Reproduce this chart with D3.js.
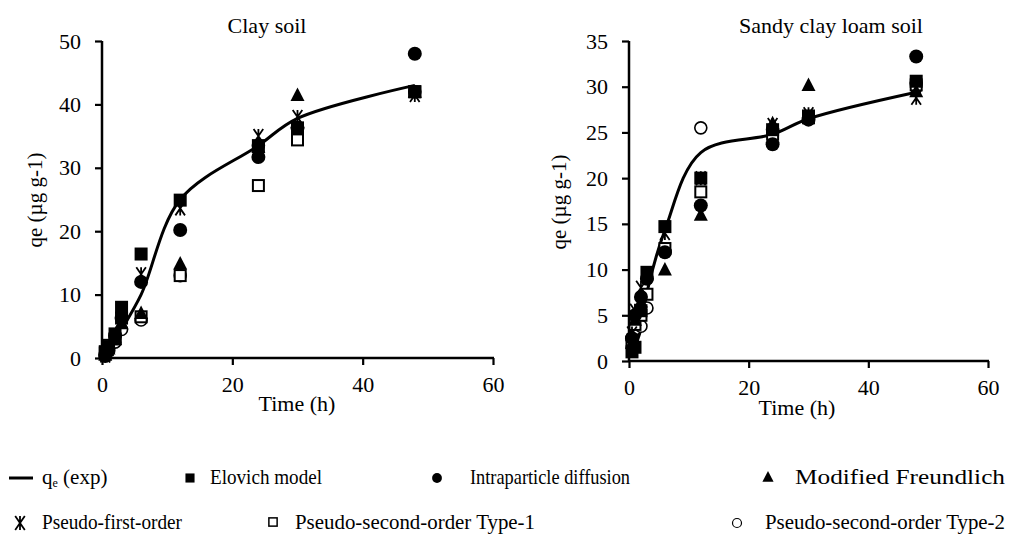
<!DOCTYPE html>
<html><head><meta charset="utf-8">
<script src="https://cdn.jsdelivr.net/npm/d3@7"></script>
<style>body{margin:0;background:#fff}svg{display:block;font-family:"Liberation Serif","Times New Roman",serif}</style>
</head><body><svg id="c" width="1011" height="537"></svg>
<script>
const times = [0.5, 1, 2, 3, 6, 12, 24, 30, 48];
const xTicks = [0, 20, 40, 60];
const clayTicks = [0, 10, 20, 30, 40, 50];
const sandyTicks = [0, 5, 10, 15, 20, 25, 30, 35];
const seriesNames = ["Elovich model","Intraparticle diffusion","Modified Freundlich","Pseudo-first-order","Pseudo-second-order Type-1","Pseudo-second-order Type-2"];
// Clay soil
const clayExp      = [0.5, 1.3, 2.8, 4.5, 10.0, 25.0, 33.5, 37.8, 43.0];
const clayElovich  = [0.8, 1.8, 3.8, 8.0, 16.4, 24.9, 33.5, 36.3, 42.0];
const clayIntra    = [0.3, 1.2, 3.5, 6.3, 12.0, 20.2, 31.7, 36.3, 48.0];
const clayMF       = [0.5, 1.5, 3.0, 5.5, 7.1, 14.9, 33.3, 41.5, 42.0];
const clayPFO      = [0.4, 1.4, 3.4, 6.8, 13.2, 23.6, 35.0, 38.0, 41.5];
const clayPSO1     = [1.0, 2.0, 3.0, 6.3, 6.5, 13.0, 27.2, 34.4, 42.0];
const clayPSO2     = [0.6, 1.5, 2.5, 4.5, 6.0, 13.0, 33.5, 36.3, 42.0];
// Sandy clay loam soil
const sandyExp     = [0.5, 1.5, 3.5, 7.5, 14.3, 22.8, 24.8, 26.5, 29.4];
const sandyElovich = [1.0, 1.5, 5.5, 9.7, 14.7, 20.0, 25.3, 26.8, 30.6];
const sandyIntra   = [2.5, 5.0, 7.0, 9.0, 11.9, 17.0, 23.7, 26.4, 33.3];
const sandyMF      = [2.0, 4.5, 6.5, 9.5, 10.0, 16.0, 26.0, 30.2, 29.5];
const sandyPFO     = [3.0, 5.5, 8.0, 9.3, 14.0, 20.0, 25.8, 27.0, 28.8];
const sandyPSO1    = [2.0, 4.0, 5.0, 7.3, 12.3, 18.5, 24.8, 26.6, 30.2];
const sandyPSO2    = [2.5, 3.5, 3.8, 5.8, 12.0, 25.5, 25.3, 26.6, 30.4];

const svg = d3.select("#c");

function marker(g, type, x, y) {
  if (type === 0) { // filled square
    g.append("rect").attr("x", x-6.5).attr("y", y-6.5).attr("width", 13).attr("height", 13).attr("fill", "#000");
  } else if (type === 1) { // filled circle
    g.append("circle").attr("cx", x).attr("cy", y).attr("r", 7).attr("fill", "#000");
  } else if (type === 2) { // triangle
    g.append("path").attr("d", `M${x},${y-7.5}L${x+7},${y+6}L${x-7},${y+6}Z`).attr("fill", "#000");
  } else if (type === 3) { // star (X + vertical)
    const r = 7, w = 4.8;
    g.append("path").attr("d", `M${x-w},${y-r}L${x+w},${y+r}M${x+w},${y-r}L${x-w},${y+r}M${x},${y-r}L${x},${y+r}`)
      .attr("stroke", "#000").attr("stroke-width", 1.8).attr("fill", "none");
  } else if (type === 4) { // open square
    g.append("rect").attr("x", x-5.5).attr("y", y-5.5).attr("width", 11).attr("height", 11).attr("fill", "#fff").attr("stroke", "#000").attr("stroke-width", 2);
  } else if (type === 5) { // open circle
    g.append("circle").attr("cx", x).attr("cy", y).attr("r", 6).attr("fill", "#fff").attr("stroke", "#000").attr("stroke-width", 1.6);
  }
}

const drawOrder = [5, 4, 3, 2, 1, 0];

function panel(opts) {
  const x = d3.scaleLinear().domain([0, 60]).range(opts.xr);
  const y = d3.scaleLinear().domain(opts.yd).range(opts.yr);
  const g = svg.append("g");
  const xa = g.append("g").attr("transform", `translate(0,${opts.yr[0]})`)
    .call(d3.axisBottom(x).tickValues(xTicks).tickSize(7).tickPadding(11).tickFormat(d3.format("d")));
  const ya = g.append("g").attr("transform", `translate(${opts.xr[0]},0)`)
    .call(d3.axisLeft(y).tickValues(opts.ticks).tickSize(7).tickPadding(14).tickFormat(d3.format("d")));
  [xa, ya].forEach(a => {
    a.select(".domain").remove();
    a.selectAll(".tick line").attr("stroke-width", 2.2);
    a.selectAll("text").attr("font-size", 22).attr("font-family", "Liberation Serif").attr("fill", "#000");
  });
  g.append("line").attr("x1", opts.xr[0]).attr("x2", opts.xr[1]+1).attr("y1", opts.yr[0]).attr("y2", opts.yr[0]).attr("stroke", "#000").attr("stroke-width", 2.5);
  g.append("line").attr("x1", opts.xr[0]).attr("x2", opts.xr[0]).attr("y1", opts.yr[0]+1).attr("y2", opts.yr[1]).attr("stroke", "#000").attr("stroke-width", 2.5);
  const line = d3.line().x((d, i) => x(times[i])).y(d => y(d)).curve(d3.curveCatmullRom.alpha(0.5));
  g.append("path").attr("d", line(opts.exp)).attr("fill", "none").attr("stroke", "#000").attr("stroke-width", 3);
  drawOrder.forEach(k => {
    opts.series[k].forEach((v, i) => marker(g, k, x(times[i]), y(v)));
  });
  g.append("text").attr("x", opts.titleX).attr("y", 33).attr("text-anchor", "middle").attr("font-size", 22).text(opts.title);
  g.append("text").attr("x", opts.timeX).attr("y", opts.timeY).attr("text-anchor", "middle").attr("font-size", 22).text("Time (h)");
  g.append("text").attr("transform", `translate(${opts.ytX},${opts.ytY}) rotate(-90)`).attr("text-anchor", "middle").attr("font-size", 21).text("qe (µg g-1)");
}

panel({xr: [102, 493], yd: [0, 50], yr: [358, 41], ticks: clayTicks, exp: clayExp,
  series: [clayElovich, clayIntra, clayMF, clayPFO, clayPSO1, clayPSO2],
  title: "Clay soil", titleX: 267, timeX: 297, timeY: 411, ytX: 42, ytY: 200});
panel({xr: [629, 988], yd: [0, 35], yr: [361, 41], ticks: sandyTicks, exp: sandyExp,
  series: [sandyElovich, sandyIntra, sandyMF, sandyPFO, sandyPSO1, sandyPSO2],
  title: "Sandy clay loam soil", titleX: 831, timeX: 797, timeY: 415, ytX: 566, ytY: 202});

// legend
const lg = svg.append("g").attr("font-size", 21);
lg.append("line").attr("x1", 9).attr("x2", 33).attr("y1", 478).attr("y2", 478).attr("stroke", "#000").attr("stroke-width", 3);
const t0 = lg.append("text").attr("x", 42).attr("y", 484);
t0.append("tspan").text("q");
t0.append("tspan").attr("font-size", 12).attr("dy", 3).text("e");
t0.append("tspan").attr("dy", -3).text(" (exp)");
const legendItems = [
  {k: 0, mx: 190, my: 478, s: 0.7, tx: 210, ty: 484, w: 112},
  {k: 1, mx: 437, my: 478, s: 0.7, tx: 470, ty: 484, w: 160},
  {k: 2, mx: 768, my: 477, s: 0.8, tx: 795, ty: 484, w: 210},
  {k: 3, mx: 20, my: 523, s: 1.0, tx: 42, ty: 529, w: 140},
  {k: 4, mx: 273, my: 522, s: 0.75, tx: 295, ty: 529, w: 240},
  {k: 5, mx: 737, my: 523, s: 0.75, tx: 765, ty: 529, w: 240}
];
legendItems.forEach(it => {
  const mg = lg.append("g").attr("transform", `translate(${it.mx},${it.my}) scale(${it.s})`);
  marker(mg, it.k, 0, 0);
  lg.append("text").attr("x", it.tx).attr("y", it.ty).attr("textLength", it.w).attr("lengthAdjust", "spacingAndGlyphs").text(seriesNames[it.k]);
});
</script></body></html>
